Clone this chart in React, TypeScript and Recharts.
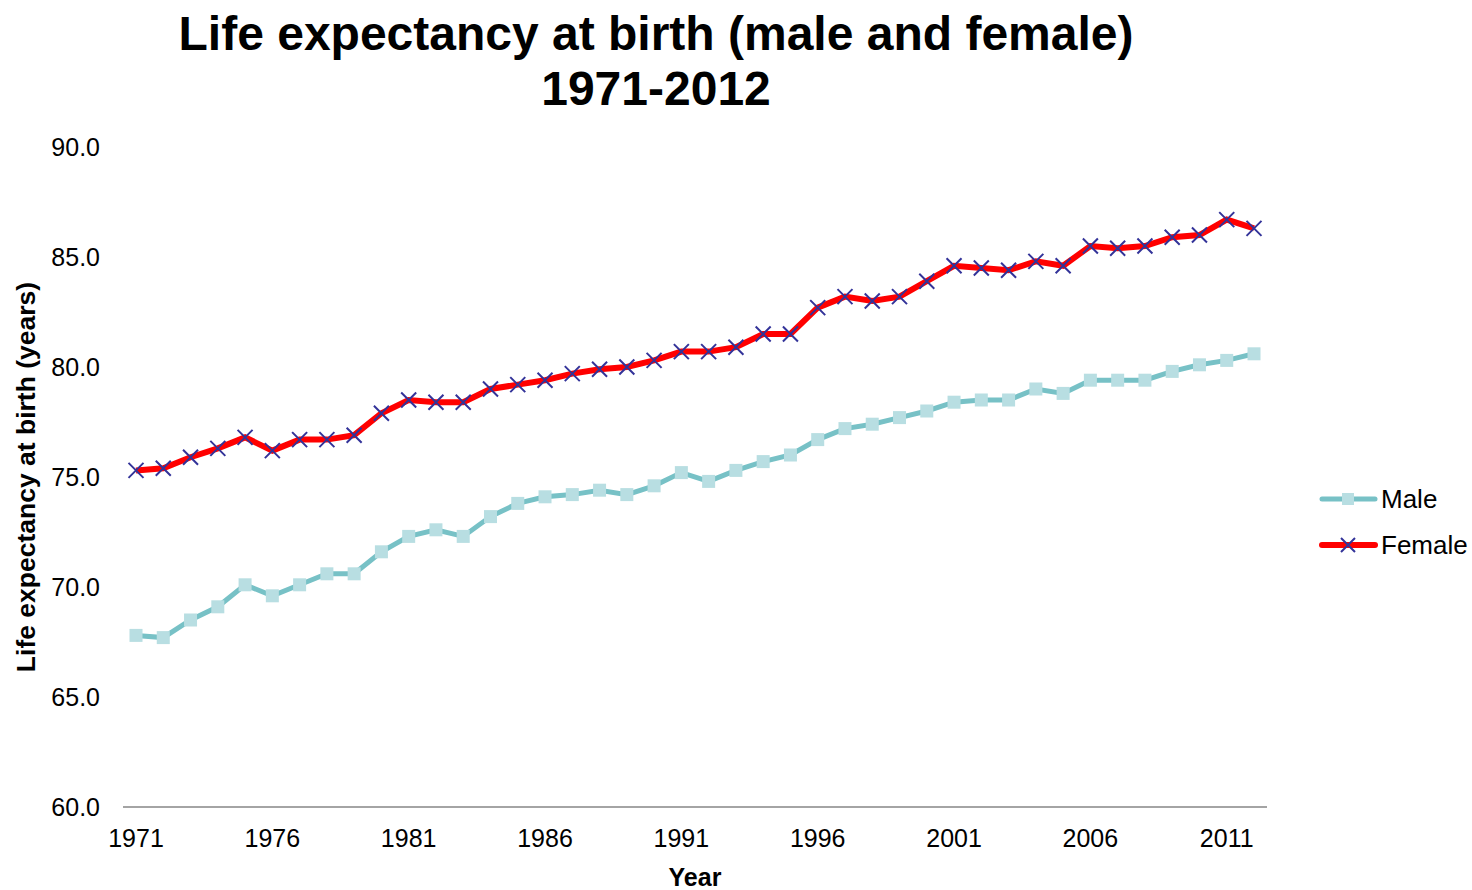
import { CartesianGrid, Legend, Line, LineChart, XAxis, YAxis } from 'recharts'

const years = [
  1971, 1972, 1973, 1974, 1975, 1976, 1977, 1978, 1979, 1980, 1981, 1982, 1983, 1984,
  1985, 1986, 1987, 1988, 1989, 1990, 1991, 1992, 1993, 1994, 1995, 1996, 1997, 1998,
  1999, 2000, 2001, 2002, 2003, 2004, 2005, 2006, 2007, 2008, 2009, 2010, 2011, 2012,
]

const male = [
  67.8, 67.7, 68.5, 69.1, 70.1, 69.6, 70.1, 70.6, 70.6, 71.6, 72.3, 72.6, 72.3, 73.2,
  73.8, 74.1, 74.2, 74.4, 74.2, 74.6, 75.2, 74.8, 75.3, 75.7, 76.0, 76.7, 77.2, 77.4,
  77.7, 78.0, 78.4, 78.5, 78.5, 79.0, 78.8, 79.4, 79.4, 79.4, 79.8, 80.1, 80.3, 80.6,
]

const female = [
  75.3, 75.4, 75.9, 76.3, 76.8, 76.2, 76.7, 76.7, 76.9, 77.9, 78.5, 78.4, 78.4, 79.0,
  79.2, 79.4, 79.7, 79.9, 80.0, 80.3, 80.7, 80.7, 80.9, 81.5, 81.5, 82.7, 83.2, 83.0,
  83.2, 83.9, 84.6, 84.5, 84.4, 84.8, 84.6, 85.5, 85.4, 85.5, 85.9, 86.0, 86.7, 86.3,
]

const yTicks = [60, 65, 70, 75, 80, 85, 90]

const data = years.map((y, i) => ({ year: String(y), male: male[i], female: female[i] }))

const FONT = '"Liberation Sans", Arial, sans-serif'
const MALE_LINE = '#77c1c6'
const MALE_MARK = '#b8dee2'
const FEMALE_LINE = '#ff0000'
const FEMALE_MARK = '#333399'

function SquareDot(props: any) {
  const { cx, cy } = props
  if (cx == null || cy == null) return null
  return <rect x={cx - 6.5} y={cy - 6.5} width={13} height={13} fill={MALE_MARK} />
}

function CrossDot(props: any) {
  const { cx, cy } = props
  if (cx == null || cy == null) return null
  const s = 7.5
  return (
    <path
      d={`M${cx - s},${cy - s}L${cx + s},${cy + s}M${cx - s},${cy + s}L${cx + s},${cy - s}`}
      stroke={FEMALE_MARK}
      strokeWidth={2}
      fill="none"
    />
  )
}

function LegendBox() {
  const items = [
    { name: 'Male', line: MALE_LINE, w: 5, mark: 'sq' },
    { name: 'Female', line: FEMALE_LINE, w: 6, mark: 'x' },
  ]
  return (
    <div style={{ fontFamily: FONT, fontSize: 26, color: '#000' }}>
      {items.map((it) => (
        <div key={it.name} style={{ display: 'flex', alignItems: 'center', height: 46 }}>
          <svg width={59} height={20} style={{ display: 'block' }}>
            <line x1={3} y1={10} x2={56} y2={10} stroke={it.line} strokeWidth={it.w} strokeLinecap="round" />
            {it.mark === 'sq' ? (
              <rect x={23} y={4} width={12} height={12} fill={MALE_MARK} />
            ) : (
              <path d="M22,3L36,17M22,17L36,3" stroke={FEMALE_MARK} strokeWidth={2} />
            )}
          </svg>
          <span style={{ marginLeft: 3 }}>{it.name}</span>
        </div>
      ))}
    </div>
  )
}

export default function App() {
  return (
    <div style={{ position: 'absolute', left: 0, top: 0, width: 1472, height: 890, background: '#fff' }}>
      <div
        style={{
          position: 'absolute',
          left: 0,
          top: 6,
          width: 1312,
          textAlign: 'center',
          fontFamily: FONT,
          fontWeight: 'bold',
          fontSize: 48,
          lineHeight: '55px',
          color: '#000',
          zIndex: 1,
        }}
      >
        Life expectancy at birth (male and female)
        <br />
        1971-2012
      </div>
      <LineChart
        width={1472}
        height={890}
        data={data}
        margin={{ top: 147, right: 55, bottom: 0, left: 0 }}
        style={{ fontFamily: FONT }}
      >
        <CartesianGrid horizontal={false} vertical={false} />
        <XAxis
          dataKey="year"
          height={83}
          interval={4}
          padding={{ left: 13, right: 13 }}
          tickSize={0}
          tickMargin={22}
          tick={{ fontSize: 25, fill: '#000' }}
          axisLine={{ stroke: '#868686', strokeWidth: 1.5 }}
          label={{ value: 'Year', position: 'insideBottom', offset: 4, style: { fontSize: 25, fontWeight: 'bold', fill: '#000' } }}
        />
        <YAxis
          width={123}
          domain={[60, 90]}
          ticks={yTicks}
          tickSize={0}
          tickMargin={23}
          axisLine={false}
          tickFormatter={(v: number) => v.toFixed(1)}
          tick={{ fontSize: 25, fill: '#000' }}
          label={{
            value: 'Life expectancy at birth (years)',
            angle: -90,
            position: 'insideLeft',
            offset: 26,
            style: { fontSize: 26.5, fontWeight: 'bold', fill: '#000', textAnchor: 'middle' },
          }}
        />
        <Legend
          layout="vertical"
          align="right"
          verticalAlign="middle"
          width={150}
          content={() => <LegendBox />}
          wrapperStyle={{ left: 1319, top: 476, width: 150 }}
        />
        <Line
          dataKey="male"
          name="Male"
          stroke={MALE_LINE}
          strokeWidth={5}
          dot={<SquareDot />}
          activeDot={false}
          isAnimationActive={false}
        />
        <Line
          dataKey="female"
          name="Female"
          stroke={FEMALE_LINE}
          strokeWidth={6}
          dot={<CrossDot />}
          activeDot={false}
          isAnimationActive={false}
        />
      </LineChart>
    </div>
  )
}
